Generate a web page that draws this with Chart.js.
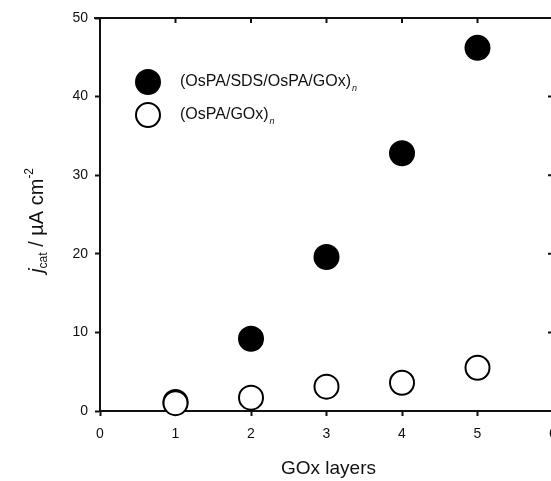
<!DOCTYPE html>
<html>
<head>
<meta charset="utf-8">
<script src="https://cdn.jsdelivr.net/npm/chart.js@4.4.0/dist/chart.umd.min.js"></script>
<style>
  html, body { margin: 0; padding: 0; background: #fff; overflow: hidden; }
  #wrap { width: 567px; height: 481px; }
</style>
</head>
<body>
<div id="wrap"><canvas id="chart" width="567" height="481"></canvas></div>
<script>
// values
const layers = [1, 2, 3, 4, 5];
const sdsValues = [1.15, 9.2, 19.6, 32.8, 46.2];  // (OsPA/SDS/OsPA/GOx)n
const plainValues = [1.0, 1.7, 3.1, 3.6, 5.5];    // (OsPA/GOx)n
const xTicks = [0, 1, 2, 3, 4, 5, 6];
const yTicks = [0, 10, 20, 30, 40, 50];

const FONT = "'Liberation Sans', Arial, sans-serif";
const INK = '#111';

const toPoints = vals => layers.map((x, i) => ({ x, y: vals[i] }));

// frame on top/right with inward ticks, legend and axis titles
const decor = {
    id: 'decor',
    afterDraw(chart) {
        const { ctx, chartArea: a, scales: { x, y } } = chart;
        ctx.save();
        ctx.strokeStyle = INK;
        ctx.lineWidth = 2;
        ctx.beginPath();
        ctx.moveTo(a.left - 6, a.top); ctx.lineTo(a.right, a.top);
        ctx.lineTo(a.right, a.bottom);
        ctx.stroke();
        ctx.beginPath();
        xTicks.forEach(v => { const px = x.getPixelForValue(v); if (v > 0 && v < 6) { ctx.moveTo(px, a.top); ctx.lineTo(px, a.top + 5); } });
        yTicks.forEach(v => { const py = y.getPixelForValue(v); if (v > 0 && v < 50) { ctx.moveTo(a.right, py); ctx.lineTo(a.right - 5, py); } });
        ctx.stroke();

        // legend
        const lx = 148, tx = 180;
        const rows = [{ y: 82, filled: true, text: '(OsPA/SDS/OsPA/GOx)' }, { y: 115, filled: false, text: '(OsPA/GOx)' }];
        rows.forEach(r => {
            ctx.beginPath();
            ctx.arc(lx, r.y, 12, 0, Math.PI * 2);
            ctx.fillStyle = r.filled ? '#000' : '#fff';
            ctx.fill();
            ctx.lineWidth = 2;
            ctx.strokeStyle = '#000';
            ctx.stroke();
            ctx.fillStyle = INK;
            ctx.textBaseline = 'middle';
            ctx.textAlign = 'left';
            ctx.font = `16px ${FONT}`;
            ctx.fillText(r.text, tx, r.y);
            const w = ctx.measureText(r.text).width;
            ctx.font = `italic 9px ${FONT}`;
            ctx.fillText('n', tx + w + 1, r.y + 6);
        });

        // x title
        ctx.font = `19px ${FONT}`;
        ctx.textAlign = 'center';
        ctx.textBaseline = 'alphabetic';
        ctx.fillText('GOx layers', (a.left + a.right) / 2 + 2, 474);

        // y title (rotated, with sub/superscript)
        ctx.translate(43, (a.top + a.bottom) / 2 + 6);
        ctx.rotate(-Math.PI / 2);
        const parts = [
            { t: 'j', f: `italic 21px ${FONT}`, dy: 0 },
            { t: 'cat', f: `12px ${FONT}`, dy: 4 },
            { t: ' / \u00B5A cm', f: `20px ${FONT}`, dy: 0 },
            { t: '-2', f: `12px ${FONT}`, dy: -10 }
        ];
        let total = 0;
        parts.forEach(p => { ctx.font = p.f; p.w = ctx.measureText(p.t).width; total += p.w; });
        let cx = -total / 2;
        ctx.textAlign = 'left';
        parts.forEach(p => { ctx.font = p.f; ctx.fillText(p.t, cx, p.dy); cx += p.w; });
        ctx.restore();
    }
};

new Chart(document.getElementById('chart'), {
    type: 'scatter',
    data: {
        datasets: [
            {
                label: '(OsPA/GOx)n',
                data: toPoints(plainValues),
                order: 0,
                pointRadius: 12,
                pointHoverRadius: 12,
                pointBackgroundColor: '#fff',
                pointBorderColor: '#000',
                pointBorderWidth: 2,
                clip: false,
            },
            {
                label: '(OsPA/SDS/OsPA/GOx)n',
                data: toPoints(sdsValues),
                order: 1,
                pointRadius: 13,
                pointHoverRadius: 13,
                pointBackgroundColor: '#000',
                pointBorderColor: '#000',
                pointBorderWidth: 0,
                clip: false,
            },
        ],
    },
    options: {
        responsive: false,
        animation: false,
        events: [],
        layout: { padding: { left: 40, top: 18, right: 4, bottom: 0 } },
        scales: {
            x: {
                type: 'linear', min: 0, max: 6,
                afterFit: s => { s.height = 70; },
                afterBuildTicks: s => { s.ticks = xTicks.map(v => ({ value: v })); },
                border: { display: true, color: INK, width: 2 },
                grid: { drawOnChartArea: false, drawTicks: true, tickLength: 5, tickColor: INK, tickWidth: 2 },
                ticks: { color: INK, font: { family: FONT, size: 14 }, padding: 10, maxRotation: 0 },
            },
            y: {
                type: 'linear', min: 0, max: 50,
                afterFit: s => { s.width = 60; },
                afterBuildTicks: s => { s.ticks = yTicks.map(v => ({ value: v })); },
                border: { display: true, color: INK, width: 2 },
                grid: { drawOnChartArea: false, drawTicks: true, tickLength: 5, tickColor: INK, tickWidth: 2 },
                ticks: { color: INK, font: { family: FONT, size: 14 }, padding: 7 },
            },
        },
        plugins: { legend: { display: false }, tooltip: { enabled: false }, title: { display: false } },
    },
    plugins: [decor],
});
</script>
</body>
</html>
